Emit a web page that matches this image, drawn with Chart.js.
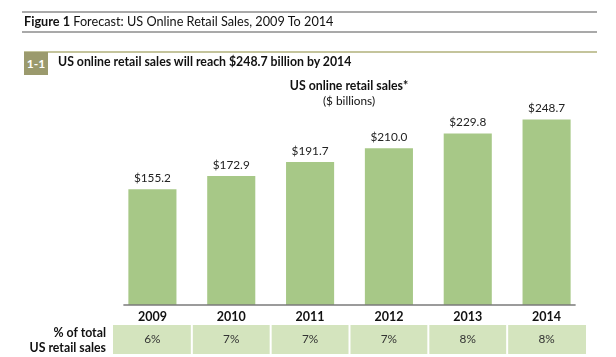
<!DOCTYPE html>
<html>
<head>
<meta charset="utf-8">
<script src="https://cdn.jsdelivr.net/npm/chart.js@4.4.1/dist/chart.umd.min.js"></script>
<style>
  html, body { margin: 0; padding: 0; background: #fff; }
  body { width: 616px; height: 357px; position: relative; overflow: hidden; font-family: Lato, "Open Sans", sans-serif; color: #111; }
  #wrap { position: absolute; left: 0; top: 0; width: 616px; height: 357px; }
  .rule { position: absolute; left: 22px; width: 575px; height: 2px; background: #a9a9a9; }
  .abs { position: absolute; white-space: nowrap; line-height: 1; }
</style>
</head>
<body>
<div id="wrap"><canvas id="c" width="616" height="357"></canvas></div>
<div class="rule" style="top:11px"></div>
<div class="abs" style="left:24px; top:15px; font-size:12.7px;"><b>Figure 1</b> Forecast: US Online Retail Sales, 2009 To 2014</div>
<div class="rule" style="top:31px"></div>
<div style="position:absolute; left:24px; top:51px; width:573px; height:1.5px; background:#c4c49c;"></div>
<div class="abs" style="left:24px; top:52px; width:24px; height:23px; background:#9b9a6d; color:#fff; font-weight:bold; font-size:12px; line-height:23px; text-align:center;">1-1</div>
<div class="abs" style="left:58px; top:56px; font-size:12.3px; font-weight:bold;">US online retail sales will reach $248.7 billion by 2014</div>
<div class="abs" style="left:249px; width:200px; text-align:center; top:80px; font-size:12.3px; font-weight:bold;">US online retail sales*</div>
<div class="abs" style="left:249px; width:200px; text-align:center; top:95px; font-size:11.8px;">($ billions)</div>
<div class="abs" style="right:510px; top:325px; font-size:12.3px; font-weight:bold; text-align:right; line-height:15px;">% of total<br>US retail sales</div>
<script>
const categories = ['2009', '2010', '2011', '2012', '2013', '2014'];
const salesValues = [155.2, 172.9, 191.7, 210.0, 229.8, 248.7];
const shareLabels = ['6%', '7%', '7%', '7%', '8%', '8%'];

const FONT = 'Lato, "Open Sans", sans-serif';

const overlay = {
  id: 'overlay',
  afterDatasetsDraw(chart) {
    const ctx = chart.ctx;
    const meta = chart.getDatasetMeta(0);
    const xs = chart.scales.x;
    const bottom = chart.chartArea.bottom;
    ctx.save();
    // value labels
    ctx.fillStyle = '#222';
    ctx.font = '11.8px ' + FONT;
    ctx.textAlign = 'center';
    ctx.textBaseline = 'middle';
    meta.data.forEach((bar, i) => {
      ctx.fillText('$' + salesValues[i].toFixed(1), bar.x, bar.y - 11);
    });
    // axis line
    const first = meta.data[0], last = meta.data[meta.data.length - 1];
    ctx.strokeStyle = '#7a7a7a';
    ctx.lineWidth = 1.5;
    ctx.beginPath();
    ctx.moveTo(first.x - first.width / 2 - 5, bottom);
    ctx.lineTo(last.x + last.width / 2 + 5, bottom);
    ctx.stroke();
    // table row
    const left = chart.chartArea.left, right = chart.chartArea.right;
    const step = (right - left) / categories.length;
    categories.forEach((c, i) => {
      const cx = xs.getPixelForValue(i);
      const x0 = cx - step / 2 + (i === 0 ? 0 : 1);
      const x1 = cx + step / 2 - (i === categories.length - 1 ? 0 : 1);
      ctx.fillStyle = '#d4e4be';
      ctx.fillRect(x0, 325, x1 - x0, 29);
      ctx.fillStyle = '#333';
      ctx.font = '11.8px ' + FONT;
      ctx.fillText(shareLabels[i], cx, 339.5);
    });
    ctx.restore();
  }
};

new Chart(document.getElementById('c'), {
  type: 'bar',
  data: {
    labels: categories,
    datasets: [{
      data: salesValues,
      backgroundColor: '#a7c887',
      borderWidth: 0,
      barPercentage: 0.61,
      categoryPercentage: 1.0
    }]
  },
  options: {
    responsive: false,
    animation: false,
    events: [],
    layout: { padding: { left: 113, right: 30, top: 111, bottom: 0 } },
    plugins: { legend: { display: false }, tooltip: { enabled: false }, title: { display: false } },
    scales: {
      x: {
        grid: { display: false, drawTicks: false },
        border: { display: false },
        ticks: { color: '#111', padding: 4, font: { family: FONT, size: 12.5, weight: 'bold' } },
        afterFit(scale) { scale.height = 52; }
      },
      y: {
        display: false,
        min: 0,
        max: 260
      }
    }
  },
  plugins: [overlay]
});
</script>
</body>
</html>
